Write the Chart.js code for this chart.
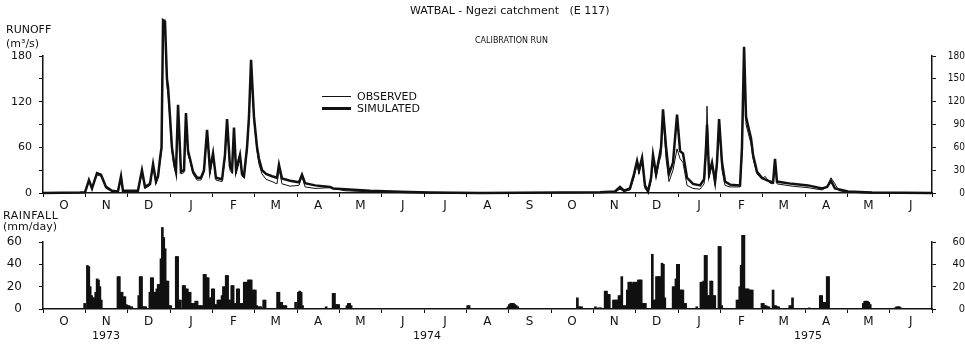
<!DOCTYPE html>
<html>
<head>
<meta charset="utf-8">
<script src="https://cdn.jsdelivr.net/npm/chart.js@4.4.0/dist/chart.umd.min.js"></script>
<style>
  body { margin: 0; background: #fff; }
  #wrap { position: relative; width: 965px; height: 347px; font-family: "DejaVu Sans", sans-serif; color: #111; }
  canvas { position: absolute; left: 0; }
  .lbl { position: absolute; font-size: 11px; line-height: 12px; white-space: pre; }
  .key { position: absolute; left: 322px; width: 29px; background: #111; }
</style>
</head>
<body>
<div id="wrap">
  <canvas id="runoff" width="965" height="215" style="top:0"></canvas>
  <canvas id="rain" width="965" height="120" style="top:215px"></canvas>

  <div class="lbl" style="left:410px;top:5px">WATBAL - Ngezi catchment   (E 117)</div>
  <div class="lbl" style="left:475px;top:35px;font-size:8px">CALIBRATION RUN</div>
  <div class="lbl" style="left:6px;top:24px">RUNOFF</div>
  <div class="lbl" style="left:6px;top:38px">(m³/s)</div>
  <div class="lbl" style="left:3px;top:210px;letter-spacing:0.5px">RAINFALL</div>
  <div class="lbl" style="left:3px;top:221px">(mm/day)</div>

  <div class="key" style="top:96px;height:1px"></div>
  <div class="lbl" style="left:357px;top:91px">OBSERVED</div>
  <div class="key" style="top:107px;height:3px"></div>
  <div class="lbl" style="left:357px;top:103px">SIMULATED</div>

  <div class="lbl" style="left:92px;top:330px">1973</div>
  <div class="lbl" style="left:413px;top:330px">1974</div>
  <div class="lbl" style="left:794px;top:330px">1975</div>
</div>

<script>
// x axis: days counted from 1 Oct 1973, each month drawn the same width
const monthLabels = ['O','N','D','J','F','M','A','M','J','J','A','S','O','N','D','J','F','M','A','M','J'];
const monthDays = 30.5;
const monthEdges = monthLabels.map((m, i) => i * monthDays).concat([monthLabels.length * monthDays]);

const runoffTicks = [0, 30, 60, 90, 120, 150, 180];
const rainTicks = [0, 20, 40, 60];

// runoff (m3/s), [day, value]
const simulated = [
  [0,0],[26.7,0.5],[30.3,1],[33.1,17],[35.3,6],[38.9,26],[41.8,24],[45.4,8],[49.7,3],[54,2],
  [56.2,22],[57.6,3],[68.4,3],[71.3,30],[73.5,8],[77.1,12],[79.3,38],[81.4,15],[82.9,22],[84.3,45],
  [85.4,60],[86.5,227],[87.9,225],[89.3,150],[90.1,139],[91.5,100],[92.9,60],[94.4,40],[95.8,28],[97.3,116],
  [99.4,28],[101.6,30],[103,105],[104.5,55],[105.9,45],[108.1,28],[111,20],[113.8,20],[116,30],[118.2,83],
  [120.3,30],[122.5,52],[124.6,20],[129,18],[131.1,50],[132.6,97],[134.7,35],[136.2,30],[137.6,86],[139.1,30],
  [140.5,40],[141.9,50],[143.4,25],[144.8,22],[147,60],[148.4,100],[149.9,175],[152,100],[154.2,60],[155.6,45],
  [157.8,30],[160.7,25],[165,22],[168.6,20],[170,37],[172.2,19],[178,16],[184.4,14],[186.6,24],[188.8,13],
  [196,10],[206.8,8],[209,6],[217.6,5],[235.6,3],[257.2,1.5],[278.8,0.5],[314.9,0],[401.3,1],[412.1,2],
  [415.7,8],[418.6,3],[422.9,6],[425.8,25],[428,42],[429.4,30],[431.6,46],[433.7,10],[435.9,2],[438.1,20],
  [439.5,50],[441.7,25],[443.8,45],[445.3,60],[446.7,110],[448.9,60],[451,25],[453.9,40],[456.8,103],[459,55],
  [461.1,52],[464,20],[468.3,12],[473.4,10],[476.3,18],[477.7,60],[478.4,90],[479.9,25],[482,40],[484.2,15],
  [485.6,40],[487.1,97],[489.2,40],[491.4,15],[495,11],[502.2,10],[503.6,60],[505.1,192],[506.5,100],[507.9,89],
  [510.1,72],[511.6,50],[514.4,28],[518,20],[520.2,18],[523.8,15],[526,14],[527.4,45],[528.8,15],[539.7,12],
  [551.2,10],[561.3,6],[564.9,8],[567.7,16],[570.6,6],[580,2],[597.3,0.5],[640.5,0]
];
const observed = [
  [0,0],[26.7,0.5],[30.3,1],[33.1,15],[35.3,8],[38.9,24],[41.8,22],[45.4,6],[49.7,2],[54,1],
  [56.2,20],[57.6,2],[68.4,2],[71.3,27],[73.5,6],[77.1,10],[79.3,36],[81.4,12],[82.9,20],[84.3,40],
  [85.4,55],[86.5,225],[87.9,228],[89.3,140],[90.1,130],[91.5,95],[92.9,55],[94.4,35],[95.8,25],[97.3,112],
  [99.4,25],[101.6,27],[103,100],[104.5,50],[105.9,42],[108.1,25],[111,17],[113.8,17],[116,27],[118.2,80],
  [120.3,25],[122.5,50],[124.6,17],[129,15],[131.1,45],[132.6,95],[134.7,30],[136.2,26],[137.6,84],[139.1,25],
  [140.5,35],[141.9,47],[143.4,22],[144.8,20],[147,55],[148.4,95],[149.9,170],[152,95],[154.2,55],[155.6,38],
  [157.8,25],[160.7,18],[165,15],[168.6,12],[170,33],[172.2,12],[178,9],[184.4,10],[186.6,22],[188.8,8],
  [196,6],[206.8,7],[217.6,3],[235.6,1.5],[257.2,0.5],[278.8,0],[401.3,0.5],[412.1,1],[415.7,5],[418.6,2],
  [422.9,4],[425.8,20],[428,38],[429.4,25],[431.6,42],[433.7,6],[435.9,1],[438.1,15],[439.5,45],[441.7,20],
  [443.8,40],[445.3,50],[446.7,105],[448.9,45],[451,15],[453.9,30],[456.8,58],[459,45],[461.1,40],[464,10],
  [468.3,6],[473.4,5],[476.3,12],[477.7,50],[478.4,114],[479.9,20],[482,38],[484.2,10],[485.6,35],[487.1,95],
  [489.2,30],[491.4,10],[495,8],[502.2,8],[503.6,50],[505.1,182],[506.5,90],[507.9,80],[510.1,65],[511.6,45],
  [514.4,25],[518,18],[520.2,22],[523.8,13],[526,12],[527.4,38],[528.8,12],[539.7,9],[551.2,7],[561.3,4],
  [564.9,8],[567.7,20],[570.6,12],[573.5,3],[580,1],[597.3,0],[640.5,0]
];

// daily rainfall (mm/day), [day, value], dry days left out
const rainfall = [
  [30,5],[32,39],[33,38],[34,20],[35,12],[36,10],[37,10],[38,15],[39,27],[40,26],[41,20],[42,8],
  [54,29],[55,29],[56,15],[57,15],[58,11],[59,11],[60,4],[61,3],[62,3],[63,2],[64,2],
  [69,12],[70,29],[71,29],[72,2],[73,2],[74,2],
  [77,15],[78,28],[79,28],[80,15],[81,15],[82,18],[83,22],[84,22],[85,45],[86,73],[87,64],[88,54],[89,25],[90,25],[91,3],[92,3],
  [96,47],[97,47],[98,8],[99,8],[101,21],[102,21],[103,18],[104,18],[105,15],[106,15],[107,5],[108,5],[109,5],[110,7],[111,7],
  [112,3],[113,3],[114,3],[115,3],[116,31],[117,31],[118,28],[119,28],[120,10],[121,10],[122,18],[123,18],[124,4],[125,4],
  [126,8],[127,8],[128,8],[129,12],[130,20],[131,20],[132,30],[133,30],[134,8],[135,8],[136,21],[137,21],[138,5],[139,5],
  [140,18],[141,18],[142,5],[143,5],[144,5],[145,24],[146,24],[147,24],[148,26],[149,26],[150,26],[151,17],[152,17],[153,17],
  [154,3],[155,2],[156,2],[157,2],[159,8],[160,8],
  [169,15],[170,15],[171,6],[172,6],[173,3],[174,3],[175,3],[182,6],[184,15],[185,16],[186,15],[187,3],
  [204,2],[209,14],[210,14],[211,4],[212,4],[213,4],[219,3],[220,5],[221,5],[222,3],
  [306,3],[307,3],[335,2],[336,4],[337,5],[338,5],[339,5],[340,4],[341,3],[342,2],
  [385,10],[386,2],[387,2],[388,2],[398,2],[400,1],[401,1],[402,1],
  [405,16],[406,16],[407,13],[408,13],[411,8],[412,8],[413,8],[414,8],[415,12],[416,12],[417,29],[418,3],[419,3],[420,3],
  [421,17],[422,24],[423,24],[424,24],[425,22],[426,24],[427,24],[428,24],[429,26],[430,26],[431,26],[432,5],[433,5],[434,5],
  [439,49],[440,8],[441,8],[442,29],[443,29],[444,29],[445,29],[446,41],[447,40],[448,10],
  [454,20],[455,20],[456,27],[457,40],[458,40],[459,17],[460,17],[461,17],[462,5],[463,5],
  [471,2],[474,24],[475,24],[476,25],[477,48],[478,48],[479,12],[480,12],[481,25],[482,25],[483,12],[484,12],[487,56],[488,56],[489,3],
  [500,8],[501,8],[502,20],[503,39],[504,66],[505,66],[506,18],[507,18],[508,18],[509,17],[510,17],[511,17],
  [518,5],[519,5],[520,3],[521,3],[522,2],[523,2],[526,17],[527,3],[528,3],[529,2],[530,2],[538,3],[539,3],[540,10],[552,1],
  [560,12],[561,12],[562,6],[563,6],[564,6],[565,29],[566,29],
  [591,5],[592,7],[593,7],[594,7],[595,6],[596,4],[614,1],[615,2],[616,2],[617,2],[618,1]
];

Chart.defaults.font.family = "'DejaVu Sans', sans-serif";
Chart.defaults.color = '#111';

const ink = '#111';
const toXY = arr => arr.map(p => ({ x: p[0], y: p[1] }));

function monthAxis(h) {
  return {
    type: 'linear', min: 0, max: monthEdges[monthEdges.length - 1], offset: false,
    afterBuildTicks: s => { s.ticks = monthEdges.map(v => ({ value: v })); },
    afterFit: s => { s.height = h; },
    grid: { drawOnChartArea: false, tickLength: 4, color: ink, offset: false },
    border: { color: ink, width: 1.5 },
    ticks: {
      autoSkip: false, maxRotation: 0, padding: 2, labelOffset: 21,
      font: { size: 12 },
      callback: (v, i) => monthLabels[i] || ''
    }
  };
}

function valueAxis(pos, max, tickList, w, opts) {
  return {
    position: pos, min: 0, max: max,
    afterBuildTicks: s => { s.ticks = tickList.map(v => ({ value: v })); },
    afterFit: s => { s.width = w; },
    grid: { drawOnChartArea: false, tickLength: 4, color: ink },
    border: { color: ink, width: 1.5 },
    ticks: Object.assign({ autoSkip: false, font: { size: 11 } }, opts)
  };
}

new Chart(document.getElementById('runoff'), {
  type: 'line',
  data: {
    datasets: [
      { label: 'OBSERVED', data: toXY(observed), borderColor: ink, borderWidth: 1, pointRadius: 0, tension: 0, clip: false },
      { label: 'SIMULATED', data: toXY(simulated), borderColor: ink, borderWidth: 2.5, pointRadius: 0, tension: 0, clip: false }
    ]
  },
  options: {
    responsive: false, animation: false, devicePixelRatio: 1,
    layout: { padding: { top: 56, left: 0, right: 0, bottom: 0 } },
    plugins: { legend: { display: false }, tooltip: { enabled: false } },
    scales: {
      x: monthAxis(22),
      y: valueAxis('left', 180, runoffTicks, 43, { padding: 7, callback: v => v % 60 === 0 ? v : '' }),
      y2: valueAxis('right', 180, runoffTicks, 33, { padding: 3, crossAlign: 'far', font: { size: 10, family: "'Liberation Sans Narrow','DejaVu Sans Condensed','Liberation Sans',sans-serif" } })
    }
  }
});

new Chart(document.getElementById('rain'), {
  type: 'bar',
  data: {
    datasets: [
      { label: 'RAINFALL', data: toXY(rainfall), backgroundColor: ink, borderWidth: 0, barThickness: 2, clip: false }
    ]
  },
  options: {
    responsive: false, animation: false, devicePixelRatio: 1,
    layout: { padding: { top: 27, left: 0, right: 0, bottom: 0 } },
    plugins: { legend: { display: false }, tooltip: { enabled: false } },
    scales: {
      x: monthAxis(26),
      y: valueAxis('left', 60, rainTicks, 43, { padding: 17, font: { size: 12 } }),
      y2: valueAxis('right', 60, rainTicks, 33, { padding: 3, crossAlign: 'far', font: { size: 11, family: "'Liberation Sans Narrow','DejaVu Sans Condensed','Liberation Sans',sans-serif" } })
    }
  }
});
</script>
</body>
</html>
